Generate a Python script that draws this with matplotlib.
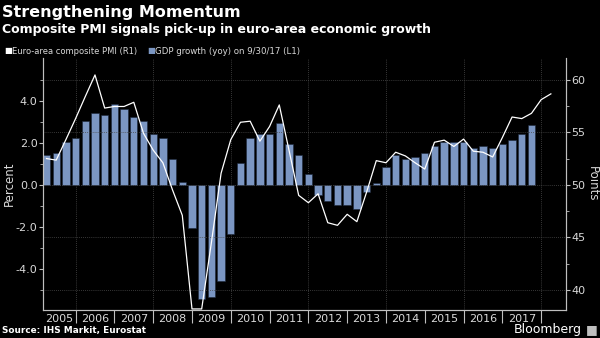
import numpy as np
import matplotlib
matplotlib.use("Agg")
import matplotlib.pyplot as plt
from matplotlib.ticker import FixedLocator, NullFormatter

# GDP growth (yoy, %), quarterly from Q1 2005 to Q3 2017
gdp_growth = [1.41, 1.51, 2.02,
              2.24, 3.03, 3.43, 3.33,
              3.83, 3.62, 3.24, 3.03,
              2.43, 2.24, 1.24, 0.13,
              -2.05, -5.44, -5.35, -4.56,
              -2.35, 1.02, 2.24, 2.43,
              2.43, 2.92, 1.92, 1.41,
              0.51, -0.46, -0.78, -0.97,
              -0.97, -1.16, -0.35, 0.11,
              0.84, 1.44, 1.24, 1.32,
              1.51, 1.83, 2.02, 2.02,
              2.02, 1.73, 1.83, 1.73,
              1.92, 2.13, 2.43, 2.83]

# Euro-area composite PMI (points), quarterly from Q1 2005 to Q1 2018
pmi = [52.5, 52.35, 54.3,
       56.3, 58.4, 60.45, 57.3,
       57.45, 57.45, 57.85, 54.9,
       53.3, 52.1, 49.5, 47.1,
       38.2, 38.2, 44.5, 51.1,
       54.3, 55.95, 56.05, 54.15,
       55.55, 57.6, 53.3, 49.0,
       48.3, 49.15, 46.4, 46.15,
       47.2, 46.5, 49.3, 52.3,
       52.1, 53.1, 52.75, 52.1,
       51.5, 54.05, 54.25, 53.65,
       54.35, 53.2, 53.1, 52.65,
       54.5, 56.45, 56.3, 56.8,
       58.1, 58.65]

years = list(range(2005, 2018))
year_labels = [str(y) for y in years]

gdp_dates = 2005.25 + 0.25 * np.arange(len(gdp_growth))
pmi_dates = 2005.25 + 0.25 * np.arange(len(pmi))

bg = "black"
txt = "#d9d9d9"
bar_col = "#7b96c2"
grid_col = "#4a4a4a"

fig = plt.figure(figsize=(6, 3.38), dpi=100, facecolor=bg)
ax = fig.add_axes([43 / 600, 28 / 338, 523 / 600, 252 / 338])
ax.set_facecolor(bg)
ax2 = ax.twinx()

x0, x1 = 2005.16, 2018.64
ax.set_xlim(x0, x1)
ax.set_ylim(-5.95, 6.03)
ax2.set_ylim(38.1, 62.06)

# gridlines (from right axis) and vertical every 2 years
for v in [40, 45, 50, 55, 60]:
    ax2.axhline(v, color=grid_col, lw=0.6, ls=(0, (1, 1.5)), zorder=0)
for yr in range(2006, 2019, 2):
    ax.axvline(yr, color=grid_col, lw=0.6, ls=(0, (1, 1.5)), zorder=0)

ax.bar(gdp_dates, gdp_growth, width=0.19, color=bar_col,
       edgecolor="#1c2638", linewidth=0.4, zorder=2)
ax2.plot(pmi_dates, pmi, color="white", lw=0.9, zorder=3)

# spines
for a in (ax, ax2):
    a.spines["top"].set_visible(False)
    for s in ("left", "right", "bottom"):
        a.spines[s].set_color("#bfbfbf")
        a.spines[s].set_linewidth(0.8)

# x axis: separators at year starts, labels centered in visible slot
ax.xaxis.set_major_locator(FixedLocator(list(range(2006, 2019))))
ax.xaxis.set_major_formatter(NullFormatter())
centers = [(max(y, x0) + min(y + 1, x1)) / 2 for y in years]
ax.xaxis.set_minor_locator(FixedLocator(centers))
ax.set_xticklabels(year_labels, minor=True)
ax.tick_params(axis="x", which="major", length=9, width=0.8, color="#bfbfbf")
ax.tick_params(axis="x", which="minor", length=0, pad=3, labelsize=8, labelcolor=txt)

# left axis
ax.yaxis.set_major_locator(FixedLocator([-4, -2, 0, 2, 4]))
ax.yaxis.set_minor_locator(FixedLocator([-5, -3, -1, 1, 3, 5]))
ax.set_yticklabels(["-4.0", "-2.0", "0.0", "2.0", "4.0"])
ax.tick_params(axis="y", which="major", length=3, width=0.8, color="#bfbfbf",
               labelsize=8, labelcolor=txt, pad=1)
ax.tick_params(axis="y", which="minor", length=2, width=0.6, color="#bfbfbf")
ax.set_ylabel("Percent", color=txt, fontsize=8.5, va="center")
ax.yaxis.set_label_coords(-0.064, 0.5)

# right axis
ax2.yaxis.set_major_locator(FixedLocator([40, 45, 50, 55, 60]))
ax2.yaxis.set_minor_locator(FixedLocator([42.5, 47.5, 52.5, 57.5]))
ax2.tick_params(axis="y", which="major", length=3, width=0.8, color="#bfbfbf",
                labelsize=8, labelcolor=txt, pad=1)
ax2.tick_params(axis="y", which="minor", length=2, width=0.6, color="#bfbfbf")
ax2.set_ylabel("Points", color=txt, fontsize=8.5, rotation=270, va="center")
ax2.yaxis.set_label_coords(1.05, 0.5)

# titles and legend
fig.text(2 / 600, 1 - 12 / 338, "Strengthening Momentum", color="white",
         fontsize=11.5, fontweight="bold", va="center", ha="left")
fig.text(2 / 600, 1 - 30 / 338, "Composite PMI signals pick-up in euro-area economic growth",
         color="white", fontsize=9, fontweight="bold", va="center", ha="left")
fig.text(4 / 600, 1 - 51 / 338, "\u25a0", color="white", fontsize=6, va="center")
fig.text(12 / 600, 1 - 51 / 338, "Euro-area composite PMI (R1)", color=txt,
         fontsize=6, va="center")
fig.text(147 / 600, 1 - 51 / 338, "\u25a0", color=bar_col, fontsize=6, va="center")
fig.text(155 / 600, 1 - 51 / 338, "GDP growth (yoy) on 9/30/17 (L1)", color=txt,
         fontsize=6.2, va="center")

fig.text(2 / 600, 1 - 331 / 338, "Source: IHS Markit, Eurostat", color="white",
         fontsize=6.4, fontweight="bold", va="center", ha="left")
fig.text(582 / 600, 1 - 330 / 338, "Bloomberg", color="white",
         fontsize=9, va="center", ha="right")
fig.text(592 / 600, 1 - 330 / 338, "\u25a0", color="#bfbfbf", fontsize=9,
         va="center", ha="center")

fig.savefig("out.png", dpi=100, facecolor=bg)
